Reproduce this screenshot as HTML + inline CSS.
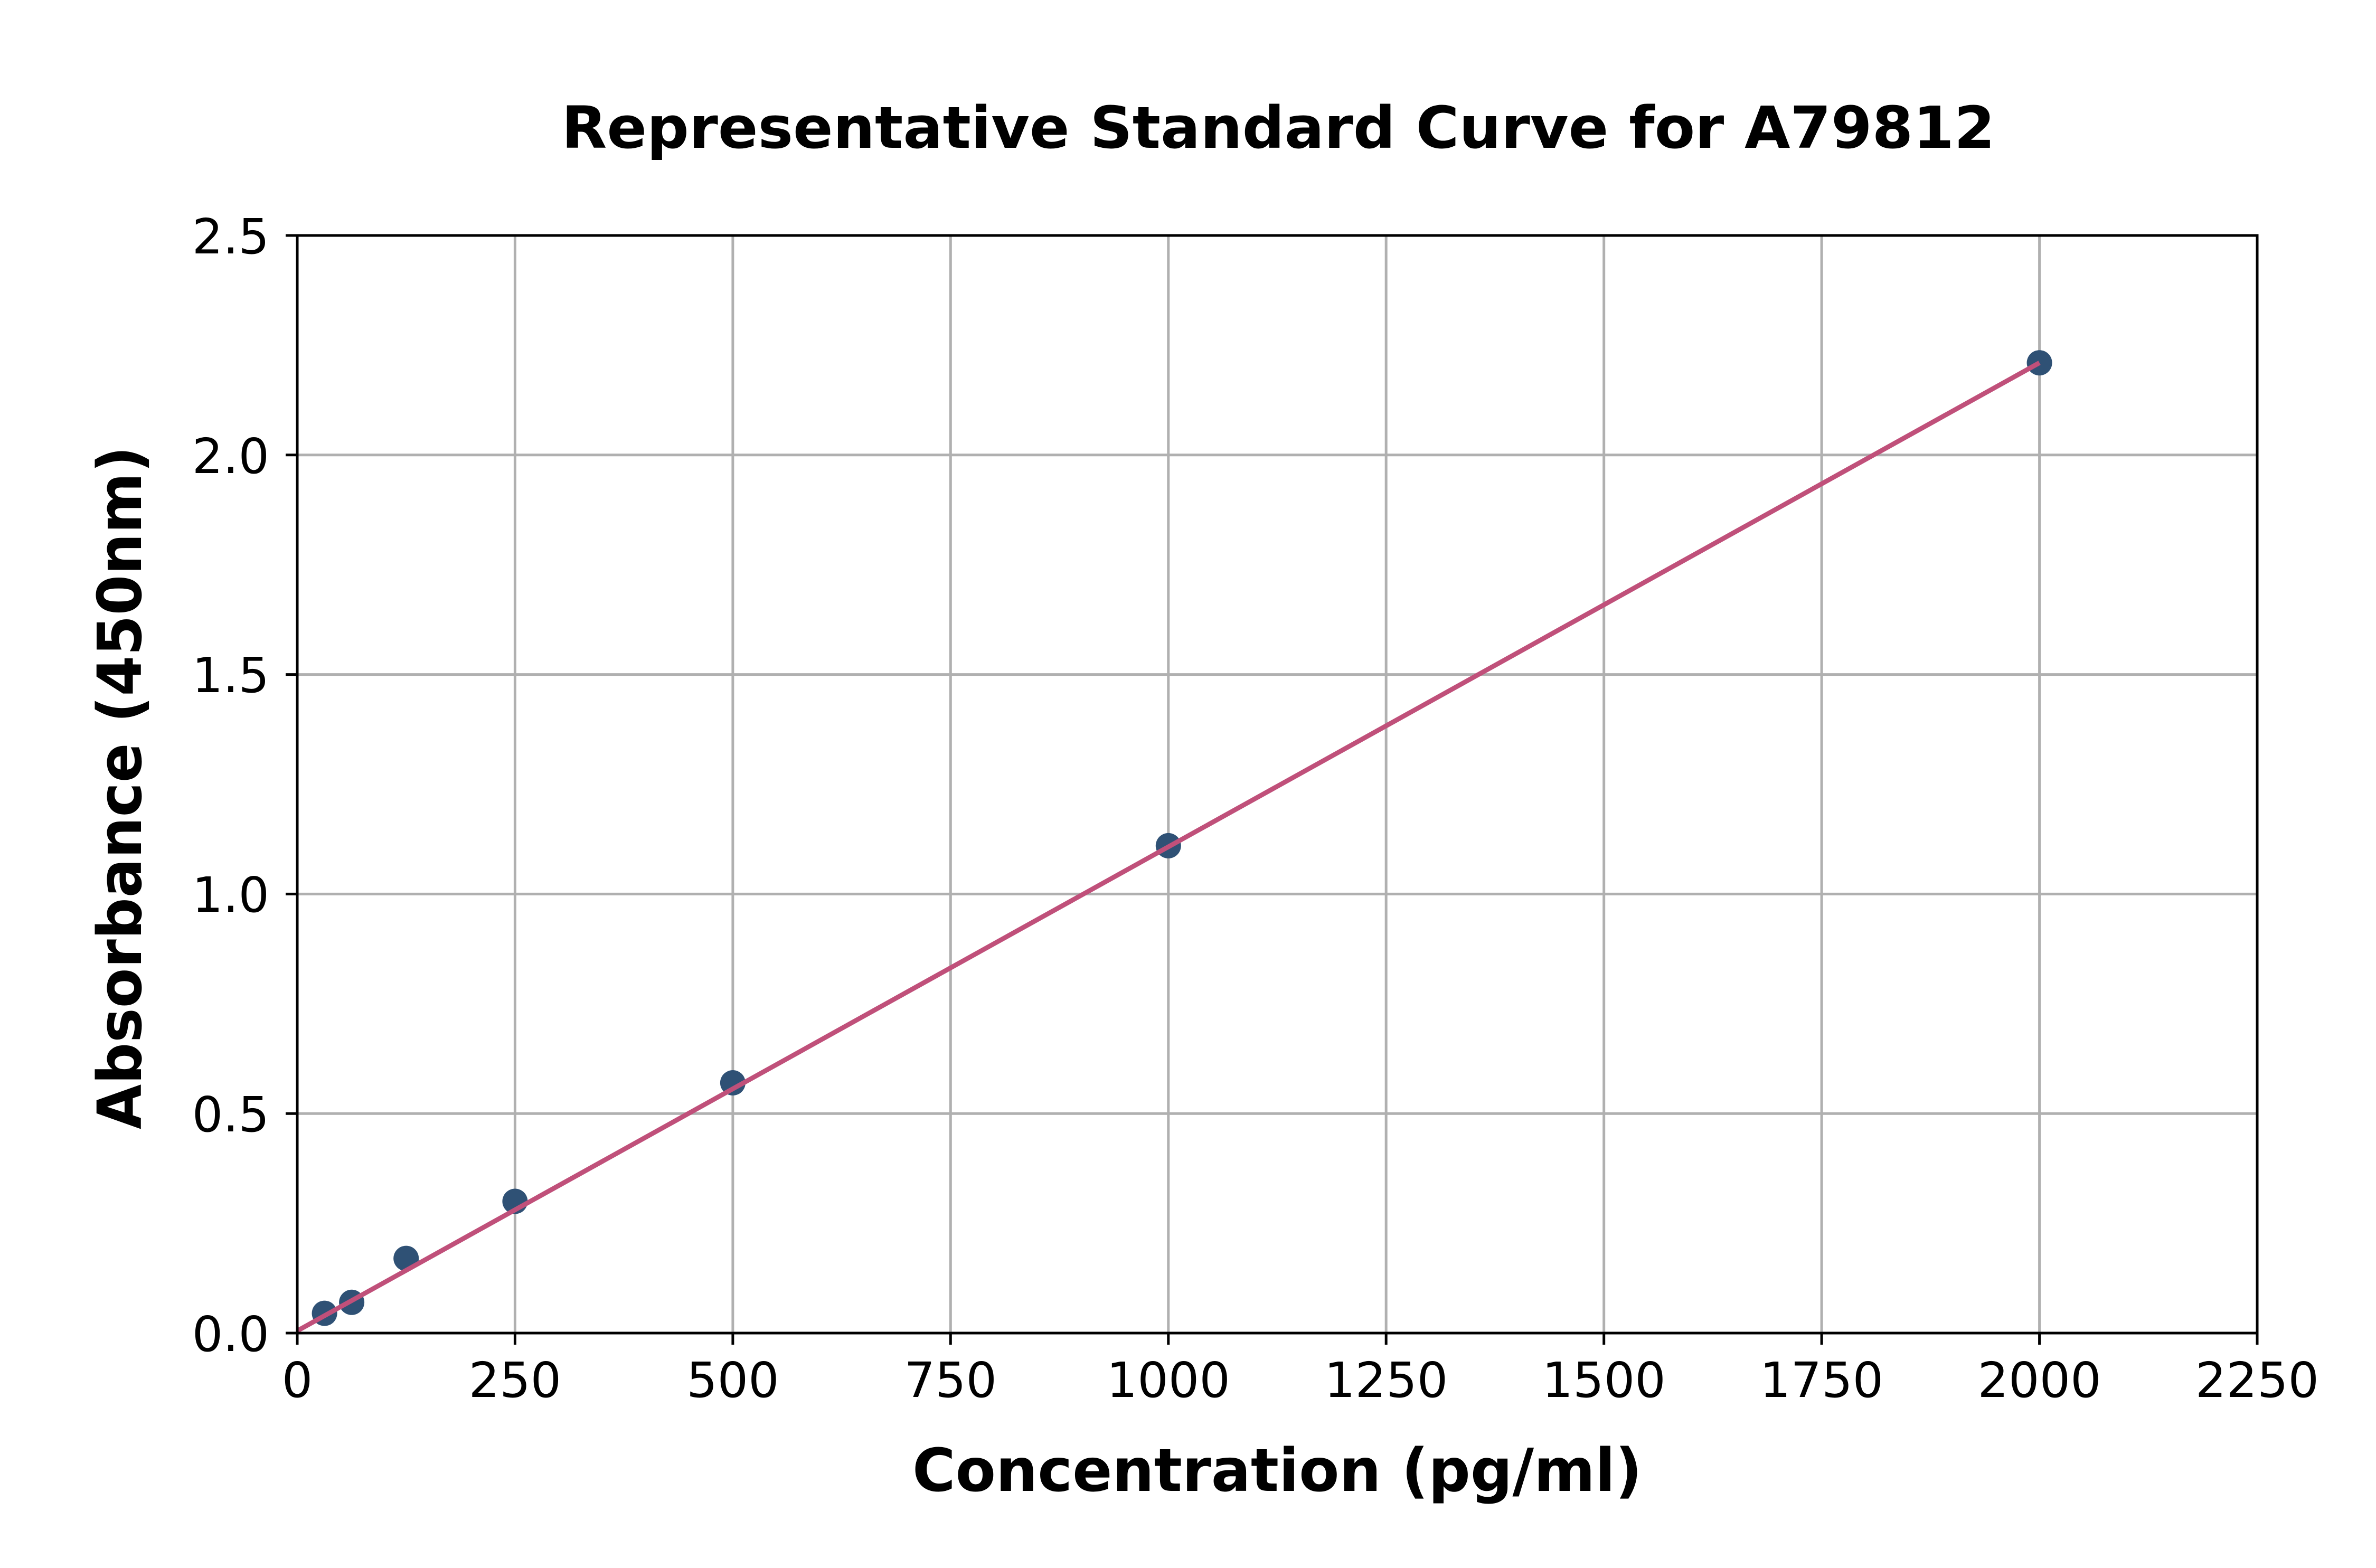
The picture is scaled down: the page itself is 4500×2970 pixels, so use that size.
<!DOCTYPE html>
<html><head><meta charset="utf-8"><style>html,body{margin:0;padding:0;background:#fff}svg{display:block}</style></head>
<body>
<svg width="4500" height="2970" viewBox="0 0 4500 2970" xmlns="http://www.w3.org/2000/svg" font-family="'DejaVu Sans','Liberation Sans',sans-serif">
<rect width="4500" height="2970" fill="#fff"/>
<g stroke="#b0b0b0" stroke-width="5">
<line x1="563" y1="446" x2="563" y2="2525"/>
<line x1="975.4" y1="446" x2="975.4" y2="2525"/>
<line x1="1387.9" y1="446" x2="1387.9" y2="2525"/>
<line x1="1800.3" y1="446" x2="1800.3" y2="2525"/>
<line x1="2212.8" y1="446" x2="2212.8" y2="2525"/>
<line x1="2625.2" y1="446" x2="2625.2" y2="2525"/>
<line x1="3037.7" y1="446" x2="3037.7" y2="2525"/>
<line x1="3450.1" y1="446" x2="3450.1" y2="2525"/>
<line x1="3862.6" y1="446" x2="3862.6" y2="2525"/>
<line x1="563" y1="2109.2" x2="4275" y2="2109.2"/>
<line x1="563" y1="1693.4" x2="4275" y2="1693.4"/>
<line x1="563" y1="1277.6" x2="4275" y2="1277.6"/>
<line x1="563" y1="861.8" x2="4275" y2="861.8"/>
</g>
<g fill="#2f5175">
<circle cx="614.6" cy="2487.6" r="24"/>
<circle cx="666.1" cy="2466.8" r="24"/>
<circle cx="769.2" cy="2383.6" r="24"/>
<circle cx="975.4" cy="2275.5" r="24"/>
<circle cx="1387.9" cy="2051" r="24"/>
<circle cx="2212.8" cy="1601.9" r="24"/>
<circle cx="3862.6" cy="687.2" r="24"/>
</g>
<line x1="563" y1="2520.8" x2="3862.6" y2="687.2" stroke="#c0507a" stroke-width="9"/>
<rect x="563" y="446" width="3712" height="2079" fill="none" stroke="#000" stroke-width="5"/>
<g stroke="#000" stroke-width="5">
<line x1="563" y1="2525" x2="563" y2="2547"/>
<line x1="975.4" y1="2525" x2="975.4" y2="2547"/>
<line x1="1387.9" y1="2525" x2="1387.9" y2="2547"/>
<line x1="1800.3" y1="2525" x2="1800.3" y2="2547"/>
<line x1="2212.8" y1="2525" x2="2212.8" y2="2547"/>
<line x1="2625.2" y1="2525" x2="2625.2" y2="2547"/>
<line x1="3037.7" y1="2525" x2="3037.7" y2="2547"/>
<line x1="3450.1" y1="2525" x2="3450.1" y2="2547"/>
<line x1="3862.6" y1="2525" x2="3862.6" y2="2547"/>
<line x1="4275" y1="2525" x2="4275" y2="2547"/>
<line x1="541" y1="2525" x2="563" y2="2525"/>
<line x1="541" y1="2109.2" x2="563" y2="2109.2"/>
<line x1="541" y1="1693.4" x2="563" y2="1693.4"/>
<line x1="541" y1="1277.6" x2="563" y2="1277.6"/>
<line x1="541" y1="861.8" x2="563" y2="861.8"/>
<line x1="541" y1="446" x2="563" y2="446"/>
</g>
<g font-size="92" fill="#000" text-anchor="middle">
<text x="563" y="2646">0</text>
<text x="975.4" y="2646">250</text>
<text x="1387.9" y="2646">500</text>
<text x="1800.3" y="2646">750</text>
<text x="2212.8" y="2646">1000</text>
<text x="2625.2" y="2646">1250</text>
<text x="3037.7" y="2646">1500</text>
<text x="3450.1" y="2646">1750</text>
<text x="3862.6" y="2646">2000</text>
<text x="4275" y="2646">2250</text>
</g>
<g font-size="92" fill="#000" text-anchor="end">
<text x="510" y="2559">0.0</text>
<text x="510" y="2143">0.5</text>
<text x="510" y="1727">1.0</text>
<text x="510" y="1311">1.5</text>
<text x="510" y="896">2.0</text>
<text x="510" y="480">2.5</text>
</g>
<text x="2421" y="280" font-size="110" font-weight="bold" text-anchor="middle" textLength="2715" lengthAdjust="spacingAndGlyphs">Representative Standard Curve for A79812</text>
<text x="2419" y="2824" font-size="112" font-weight="bold" text-anchor="middle" textLength="1382" lengthAdjust="spacingAndGlyphs">Concentration (pg/ml)</text>
<text transform="translate(267,1492) rotate(-90)" x="0" y="0" font-size="115" font-weight="bold" text-anchor="middle" textLength="1294" lengthAdjust="spacingAndGlyphs">Absorbance (450nm)</text>
</svg>
</body></html>
